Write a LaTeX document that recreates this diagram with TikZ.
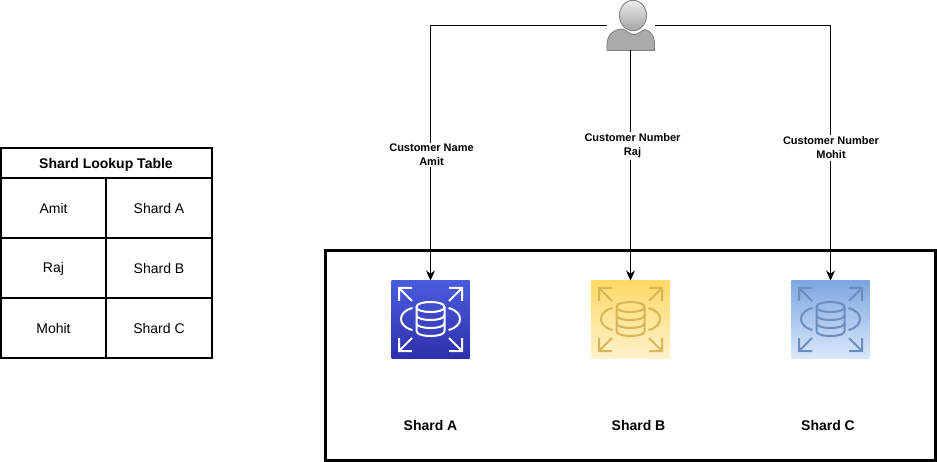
\documentclass[tikz,border=0pt]{standalone}
\usepackage{fontspec}
\setmainfont{Liberation Sans}
\usetikzlibrary{arrows.meta}
\tikzset{
  conn/.style={draw=black,line width=1pt,-{Stealth[length=10pt,width=9pt]}},
  edgelabel/.style={fill=white,font=\bfseries\fontsize{11}{14}\selectfont,align=center,inner sep=1.5pt,text=black},
  shardname/.style={font=\bfseries\fontsize{14}{16}\selectfont,text=black},
  cell/.style={font=\fontsize{14}{16}\selectfont,text=black},
  tablehead/.style={font=\bfseries\fontsize{14}{16}\selectfont,text=black},
  tableline/.style={draw=black,line width=1.5pt},
  iconbox/.style={minimum width=78pt,minimum height=78pt,inner sep=0pt,outer sep=0pt,draw=none,shading angle=0},
  iconline/.style={line width=2pt,line cap=butt,line join=miter}
}
\newcommand{\rdsglyph}[3]{%
\begin{scope}[shift={(#1,#2)},iconline,draw=#3]
  % corner arrows
  \draw (7.5,20.5) -- (7.5,7.5) -- (20.5,7.5) (7.5,7.5) -- (20.5,20.5);
  \draw (57.5,7.5) -- (70.5,7.5) -- (70.5,20.5) (70.5,7.5) -- (57.5,20.5);
  \draw (7.5,57.5) -- (7.5,70.5) -- (20.5,70.5) (7.5,70.5) -- (20.5,57.5);
  \draw (57.5,70.5) -- (70.5,70.5) -- (70.5,57.5) (70.5,70.5) -- (57.5,57.5);
  % orbit
  \draw (21,27.5) .. controls (13,29.5) and (9.5,34) .. (9.5,38.5) .. controls (9.5,43) and (13,47.5) .. (21,49.5);
  \draw (57,27.5) .. controls (65,29.5) and (68.5,34) .. (68.5,38.5) .. controls (68.5,43) and (65,47.5) .. (57,49.5);
  % cylinder
  \draw (25,26.5) .. controls (25,23) and (32,21.5) .. (39,21.5) .. controls (46,21.5) and (53,23) .. (53,26.5)
        .. controls (53,30) and (46,31.5) .. (39,31.5) .. controls (32,31.5) and (25,30) .. (25,26.5) -- cycle;
  \draw (25,26.5) -- (25,50.5) .. controls (25,54) and (32,55.5) .. (39,55.5) .. controls (46,55.5) and (53,54) .. (53,50.5) -- (53,26.5);
  \draw (25,34.5) .. controls (25,38) and (32,39.5) .. (39,39.5) .. controls (46,39.5) and (53,38) .. (53,34.5);
  \draw (25,42.5) .. controls (25,46) and (32,47.5) .. (39,47.5) .. controls (46,47.5) and (53,46) .. (53,42.5);
\end{scope}}
\begin{document}
\begin{tikzpicture}[x=1pt,y=-1pt]
\useasboundingbox (0,0) rectangle (937,462);
% group frame
\node[draw=black,line width=3pt,minimum width=610.5pt,minimum height=210pt,inner sep=0pt] (frame) at (630.25,355.5) {};
% icons
\node[iconbox,top color={rgb,255:red,73;green,92;blue,222},bottom color={rgb,255:red,46;green,48;blue,170}] (shardA) at (430.5,319.5) {};
\rdsglyph{391.5}{280.5}{white}
\node[iconbox,top color={rgb,255:red,255;green,217;blue,102},bottom color={rgb,255:red,255;green,242;blue,204}] (shardB) at (630.5,319.5) {};
\rdsglyph{591.5}{280.5}{{rgb,255:red,214;green,182;blue,86}}
\node[iconbox,top color={rgb,255:red,126;green,166;blue,224},bottom color={rgb,255:red,218;green,232;blue,252}] (shardC) at (830.5,319.5) {};
\rdsglyph{791.5}{280.5}{{rgb,255:red,108;green,142;blue,191}}
% user
\node[minimum width=48pt,minimum height=50pt,inner sep=0pt,outer sep=0pt] (user) at (630.5,25.5) {};
\fill[top color={rgb,255:red,235;green,235;blue,235},bottom color={rgb,255:red,165;green,165;blue,165},draw={rgb,255:red,125;green,125;blue,125},line width=0.8pt]
  (633,15.5) ellipse [x radius=13.5,y radius=15.2];
\filldraw[fill={rgb,255:red,170;green,170;blue,170},draw={rgb,255:red,125;green,125;blue,125},line width=0.8pt]
  (607,50.5) .. controls (606.5,42) and (607.5,35) .. (613,32)
  .. controls (617,29.5) and (621,28.5) .. (623,29)
  .. controls (627,31) and (630,34.5) .. (634,34.5)
  .. controls (638,34.5) and (641,31) .. (645,29.5)
  .. controls (650,31) and (654,35) .. (654.5,42)
  -- (654.5,50.5) -- cycle;
% connectors
\draw[conn] (user.west) -| (shardA.north);
\draw[conn] (user.south) -- (shardB.north);
\draw[conn] (user.east) -| (shardC.north);
% edge labels
\node[edgelabel] (labA) at (431.5,155) {Customer Name\\Amit};
\node[edgelabel] (labB) at (632.5,146) {Customer Number\\Raj};
\node[edgelabel] (labC) at (831,148) {Customer Number\\Mohit};
% shard names
\node[shardname] (nameA) at (430.5,425) {Shard A};
\node[shardname] (nameB) at (638.5,425) {Shard B};
\node[shardname] (nameC) at (828,425) {Shard C};
% lookup table
\node[tableline,draw,minimum width=211pt,minimum height=210pt,inner sep=0pt] (tbl) at (106.5,253) {};
\coordinate (tl1) at (1,178); \coordinate (tr1) at (212,178);
\coordinate (tl2) at (1,238); \coordinate (tr2) at (212,238);
\coordinate (tl3) at (1,298); \coordinate (tr3) at (212,298);
\coordinate (vt) at (106,178); \coordinate (vb) at (106,358);
\draw[tableline] (tl1) -- (tr1) (tl2) -- (tr2) (tl3) -- (tr3) (vt) -- (vb);
\node[tablehead] (thead) at (106,164.5) {Shard Lookup Table};
\node[cell] (c11) at (53.5,208.5) {Amit};
\node[cell] (c12) at (159,208.5) {Shard A};
\node[cell] (c21) at (53.5,268.5) {Raj};
\node[cell] (c22) at (159,268.5) {Shard B};
\node[cell] (c31) at (53.5,328.5) {Mohit};
\node[cell] (c32) at (159,328.5) {Shard C};
\end{tikzpicture}
\end{document}
